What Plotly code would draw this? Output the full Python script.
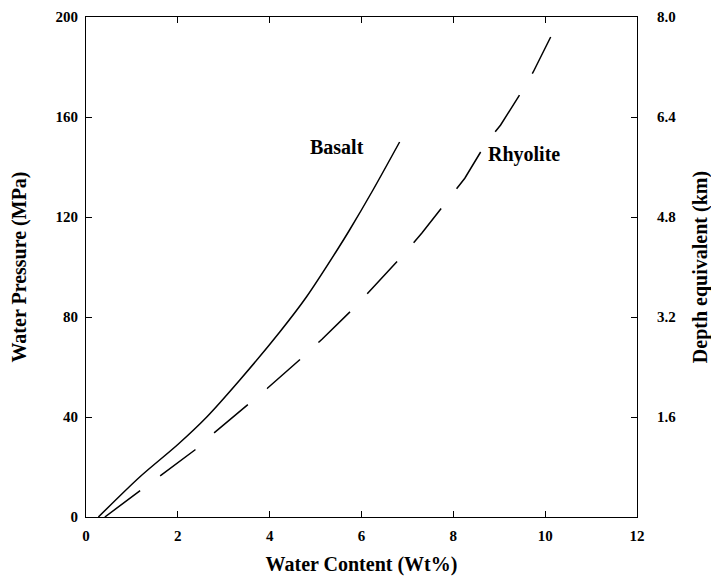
import plotly.graph_objects as go

basalt_x = [0.27, 1.17, 2.0, 2.63, 3.35, 4.22, 4.8, 5.47, 5.74, 6.25, 6.83]
basalt_y = [0, 16, 29, 40, 54.8, 74, 88, 106.8, 114.8, 130.8, 150]

rhyolite_x = [0.41, 1.17, 1.59, 2.37, 2.76, 3.52, 3.95, 4.69, 5.14, 5.88, 6.28, 6.95,
              7.32, 7.93, 8.25, 8.71, 9.03, 9.5, 9.74, 10.12]
rhyolite_y = [0, 10.4, 16, 26.8, 33.2, 44.8, 51.5, 63.5, 71.1, 84.4, 92.4, 105.7,
              113.7, 127.7, 135.5, 149.5, 156.8, 170.5, 178, 192]

x_ticks = [0, 2, 4, 6, 8, 10, 12]
y_ticks = [0, 40, 80, 120, 160, 200]
depth_ticks = [1.6, 3.2, 4.8, 6.4, 8.0]
depth_labels = ["1.6", "3.2", "4.8", "6.4", "8.0"]

FONT = "Liberation Serif"
TICKFONT = dict(family=FONT, size=15, color="black")
TITLEFONT = dict(family=FONT, size=20, color="black")

fig = go.Figure()
fig.add_trace(go.Scatter(x=basalt_x, y=basalt_y, mode="lines",
                         line=dict(color="black", width=1.5, shape="spline", smoothing=0.8),
                         showlegend=False))
fig.add_trace(go.Scatter(x=rhyolite_x, y=rhyolite_y, mode="lines",
                         line=dict(color="black", width=1.5, dash="44px,25px"),
                         showlegend=False))
fig.add_trace(go.Scatter(x=[0], y=[0], yaxis="y2", mode="markers", marker=dict(opacity=0),
                         showlegend=False, hoverinfo="skip"))

fig.update_layout(
    width=719, height=576,
    margin=dict(l=78, r=90, t=9, b=67),
    plot_bgcolor="white", paper_bgcolor="white",
    font=dict(family=FONT, color="black", size=15),
    xaxis=dict(range=[0, 12], tickvals=x_ticks, ticktext=[f"<b>{v}</b>" for v in x_ticks],
               ticks="inside", ticklen=6, tickcolor="black", automargin=False,
               ticklabelstandoff=5,
               showline=True, linecolor="black", linewidth=1.2, mirror="ticks",
               showgrid=False, zeroline=False, tickfont=TICKFONT,
               title=dict(text="<b>Water Content (Wt%)</b>", font=TITLEFONT, standoff=13)),
    yaxis=dict(range=[0, 200], tickvals=y_ticks, ticktext=[f"<b>{v}</b>" for v in y_ticks],
               ticks="inside", ticklen=6, tickcolor="black", automargin=False,
               ticklabelstandoff=4,
               showline=True, linecolor="black", linewidth=1.2, mirror="ticks",
               showgrid=False, zeroline=False, tickfont=TICKFONT,
               title=dict(text="<b>Water Pressure (MPa)</b>", font=TITLEFONT, standoff=23)),
    yaxis2=dict(range=[0, 8], overlaying="y", side="right", tickvals=depth_ticks,
                ticktext=[f"<b>{t}</b>" for t in depth_labels], automargin=False,
                ticks="outside", ticklen=16, tickcolor="rgba(0,0,0,0)",
                showline=False, showgrid=False, zeroline=False, tickfont=TICKFONT,
                title=dict(text="<b>Depth equivalent (km)</b>", font=TITLEFONT, standoff=17)),
    annotations=[
        dict(x=5.47, y=148, xref="x", yref="y", text="<b>Basalt</b>", showarrow=False,
             font=dict(family=FONT, size=20)),
        dict(x=9.53, y=145, xref="x", yref="y", text="<b>Rhyolite</b>", showarrow=False,
             font=dict(family=FONT, size=20)),
    ],
)

fig.write_html("out.html")
